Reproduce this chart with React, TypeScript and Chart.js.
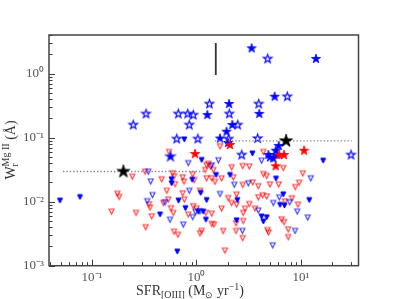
import React, { useEffect, useRef } from 'react';
import { Chart, registerables } from 'chart.js';
Chart.register(...registerables);

const X_MIN = 0.0388;
const X_MAX = 35.5;
const Y_MIN = 0.001;
const Y_MAX = 4.02;

const redOpenTri: [number, number][] = [
  [0.154, 0.007], [0.175, 0.0133], [0.182, 0.0119], [0.243, 0.0246], [0.264, 0.0067],
  [0.322, 0.0294], [0.351, 0.0091], [0.359, 0.0081], [0.327, 0.004], [0.373, 0.0059],
  [0.465, 0.0224], [0.546, 0.0598], [0.592, 0.0278], [0.61, 0.0249], [0.623, 0.0188],
  [0.738, 0.024], [0.759, 0.0206], [0.92, 0.0268], [0.95, 0.0218], [1.3, 0.039],
  [1.68, 0.0737], [0.52, 0.0148], [0.738, 0.0135], [0.537, 0.0108], [0.481, 0.00955],
  [0.57, 0.0079], [0.6, 0.0067], [0.764, 0.0108], [0.61, 0.0034], [0.665, 0.00305],
  [1.12, 0.0035], [1.08, 0.0032], [1.08, 0.0148], [0.932, 0.0085], [1.0, 0.0078],
  [0.835, 0.0063], [1.23, 0.0067], [1.4, 0.0065], [1.4, 0.0045], [1.47, 0.0044],
  [1.74, 0.0078], [2.01, 0.0114], [1.8, 0.0035], [1.87, 0.00172],
  [1.25, 0.0374], [1.36, 0.0355], [1.21, 0.0313], [1.45, 0.0313], [1.25, 0.0232],
  [1.4, 0.0232], [1.5, 0.0205], [1.74, 0.0232], [2.17, 0.0345], [2.25, 0.024],
  [2.77, 0.0361], [3.2, 0.0354], [2.77, 0.0183], [3.45, 0.02], [3.9, 0.0175],
  [4.36, 0.0598], [4.36, 0.027], [4.7, 0.0253], [5.05, 0.0186], [6.12, 0.0186],
  [6.77, 0.0336], [10.4, 0.0277], [9.6, 0.0198], [8.8, 0.0169],
  [2.42, 0.0129], [2.17, 0.00955], [2.42, 0.009], [3.9, 0.0117], [4.3, 0.0126],
  [4.7, 0.0121], [3.2, 0.0092], [2.91, 0.0078], [2.8, 0.0067], [3.63, 0.0078],
  [7.03, 0.0101], [8.2, 0.0113], [9.35, 0.009], [2.8, 0.005], [2.39, 0.0046],
  [2.39, 0.0035], [2.77, 0.0027], [6.53, 0.0053], [6.88, 0.0048], [7.55, 0.0037],
  [7.55, 0.0028], [4.78, 0.0036], [4.9, 0.0033],
];

const blueOpenTri: [number, number][] = [
  [0.346, 0.0294], [0.365, 0.0207], [0.379, 0.0127], [0.338, 0.0102], [0.835, 0.0401],
  [1.62, 0.0444], [1.4, 0.037], [0.853, 0.0148], [0.5, 0.0098], [0.558, 0.00523],
  [0.748, 0.0044], [0.98, 0.0069], [1.08, 0.0071], [0.92, 0.00575], [1.68, 0.0132],
  [4.2, 0.0438], [2.3, 0.0184], [3.13, 0.0194], [6.2, 0.0117], [5.43, 0.00955],
  [7.8, 0.0098], [9.2, 0.007], [11.6, 0.00566], [12.4, 0.0232], [3.9, 0.0073],
  [2.75, 0.0035], [8.77, 0.0035], [5.36, 0.00208],
];

const blueFilledTri: [number, number][] = [
  [0.0494, 0.0104], [0.0768, 0.0118], [0.764, 0.0937], [0.577, 0.0224], [0.578, 0.0194],
  [0.91, 0.022], [0.673, 0.0104], [0.785, 0.0079], [1.04, 0.00698], [0.448, 0.0063],
  [0.655, 0.00166], [3.43, 0.0566], [16.3, 0.0438], [1.12, 0.0449], [1.54, 0.0261],
  [2.09, 0.0261], [5.76, 0.0229], [2.46, 0.0106], [6.77, 0.013], [6.3, 0.0089],
  [6.95, 0.0087], [12.0, 0.0106], [4.2, 0.00587], [4.7, 0.0057], [4.36, 0.0049],
  [2.42, 0.0051], [1.23, 0.00523], [1.16, 0.00698], [1.1, 0.0137], [1.25, 0.0106],
];

const blueFilledStars: [number, number][] = [
  [3.37, 2.49], [13.9, 1.7], [2.05, 0.336], [5.6, 0.437], [1.27, 0.226], [3.99, 0.235],
  [2.2, 0.158], [1.94, 0.124], [1.68, 0.097], [2.01, 0.0826], [6.12, 0.0742], [5.73, 0.0626],
  [5.05, 0.0491], [5.43, 0.0473], [4.87, 0.0537], [5.85, 0.0537],
];

const bigBlueStar: [number, number][] = [[0.564, 0.0508]];

const blueOpenStars: [number, number][] = [
  [0.248, 0.158], [0.329, 0.235], [0.67, 0.235], [0.824, 0.235], [0.932, 0.226], [0.853, 0.158],
  [0.647, 0.0955], [1.03, 0.0955], [4.8, 1.7], [1.33, 0.336], [3.94, 0.336], [7.39, 0.437],
  [2.06, 0.235], [2.48, 0.158], [2.03, 0.0955], [3.85, 0.097], [2.71, 0.0537], [30.1, 0.0537],
];

const redStars: [number, number][] = [
  [0.968, 0.0556], [2.09, 0.0769], [10.7, 0.0626], [6.2, 0.0537], [6.88, 0.0537], [5.73, 0.0358],
];

const blackStars: [number, number][] = [[0.2, 0.0296], [7.2, 0.089]];

const medianLow: [number, number][] = [[0.0528, 0.0296], [1.21, 0.0296]];
const medianHigh: [number, number][] = [[1.5, 0.089], [30.6, 0.089]];
const errorBar: [number, number][] = [[1.53, 0.954], [1.53, 3.02]];

const SUP: Record<string, string> = {
  '-': '\u207B', '0': '\u2070', '1': '\u00B9', '2': '\u00B2', '3': '\u00B3',
  '4': '\u2074', '5': '\u2075', '6': '\u2076', '7': '\u2077', '8': '\u2078', '9': '\u2079',
};

function powLabel(v: number): string {
  const e = Math.log10(v);
  const r = Math.round(e);
  if (Math.abs(e - r) > 1e-6) return '';
  return '10' + String(r).split('').map((c) => SUP[c] || c).join('');
}

function starCanvas(R: number, fill: string | null, stroke: string | null, lw: number) {
  const pad = Math.ceil(lw) + 1;
  const size = Math.ceil(2 * R + 2 * pad);
  const c = document.createElement('canvas');
  c.width = size;
  c.height = size;
  const ctx = c.getContext('2d')!;
  const cx = size / 2;
  const cy = size / 2;
  ctx.beginPath();
  for (let i = 0; i < 10; i++) {
    const r = i % 2 === 0 ? R : R * 0.381966;
    const a = -Math.PI / 2 + (i * Math.PI) / 5;
    const px = cx + r * Math.cos(a);
    const py = cy + r * Math.sin(a);
    if (i === 0) ctx.moveTo(px, py);
    else ctx.lineTo(px, py);
  }
  ctx.closePath();
  if (fill) {
    ctx.fillStyle = fill;
    ctx.fill();
  }
  if (stroke) {
    ctx.strokeStyle = stroke;
    ctx.lineWidth = lw;
    ctx.lineJoin = 'miter';
    ctx.stroke();
  }
  return c;
}

function triCanvas(s: number, fill: string | null, stroke: string | null, lw: number) {
  const pad = Math.ceil(lw) + 1;
  const size = Math.ceil(s + 2 * pad);
  const c = document.createElement('canvas');
  c.width = size;
  c.height = size;
  const ctx = c.getContext('2d')!;
  const cx = size / 2;
  const cy = size / 2;
  const h = s / 2;
  ctx.beginPath();
  ctx.moveTo(cx - h, cy - h);
  ctx.lineTo(cx + h, cy - h);
  ctx.lineTo(cx, cy + h);
  ctx.closePath();
  if (fill) {
    ctx.fillStyle = fill;
    ctx.fill();
  }
  if (stroke) {
    ctx.strokeStyle = stroke;
    ctx.lineWidth = lw;
    ctx.stroke();
  }
  return c;
}

const pts = (arr: [number, number][]) => arr.map(([x, y]) => ({ x, y }));

type Seg = { t: string; size: number; dy: number };

const FAM = '"Liberation Serif", serif';

function drawSegs(ctx: CanvasRenderingContext2D, segs: Seg[], x0: number, y0: number) {
  let total = 0;
  for (const s of segs) {
    ctx.font = `${s.size}px ${FAM}`;
    total += ctx.measureText(s.t).width;
  }
  let x = x0 - total / 2;
  for (const s of segs) {
    ctx.font = `${s.size}px ${FAM}`;
    ctx.fillText(s.t, x, y0 + s.dy);
    x += ctx.measureText(s.t).width;
  }
}

const decorPlugin = {
  id: 'decor',
  afterDraw(chart: any) {
    const { ctx, chartArea: a, scales } = chart;
    const xs = scales.x;
    const ys = scales.y;
    ctx.save();
    ctx.strokeStyle = '#3a3a3a';
    ctx.lineWidth = 1;
    for (let d = -3; d <= 1; d++) {
      for (let m = 1; m <= 9; m++) {
        const v = m * Math.pow(10, d);
        const len = m === 1 ? 6 : 3.5;
        if (v >= X_MIN && v <= X_MAX) {
          const px = Math.round(xs.getPixelForValue(v)) + 0.5;
          ctx.beginPath();
          ctx.moveTo(px, a.bottom);
          ctx.lineTo(px, a.bottom - len);
          ctx.stroke();
        }
        if (v >= Y_MIN && v <= Y_MAX) {
          const py = Math.round(ys.getPixelForValue(v)) + 0.5;
          ctx.beginPath();
          ctx.moveTo(a.left, py);
          ctx.lineTo(a.left + len, py);
          ctx.stroke();
        }
      }
    }
    ctx.lineWidth = 1.5;
    ctx.strokeStyle = '#444';
    ctx.strokeRect(a.left, a.top, a.right - a.left, a.bottom - a.top);

    ctx.fillStyle = '#333';
    ctx.textBaseline = 'alphabetic';
    drawSegs(
      ctx,
      [
        { t: 'SFR', size: 14, dy: 0 },
        { t: '[OIII]', size: 10, dy: 3 },
        { t: ' (M', size: 14, dy: 0 },
        { t: '\u2299', size: 9, dy: 3 },
        { t: ' yr', size: 14, dy: 0 },
        { t: '\u22121', size: 10, dy: -5 },
        { t: ')', size: 14, dy: 0 },
      ],
      190,
      295
    );

    ctx.translate(15, 150);
    ctx.rotate(-Math.PI / 2);
    ctx.font = `14px ${FAM}`;
    const wW = ctx.measureText('W').width;
    ctx.font = `10px ${FAM}`;
    const supW = ctx.measureText('Mg II').width;
    ctx.font = `14px ${FAM}`;
    const restW = ctx.measureText(' (\u00C5)').width;
    const total = wW + supW + restW;
    let x = -total / 2;
    ctx.font = `14px ${FAM}`;
    ctx.fillText('W', x, 0);
    x += wW;
    ctx.font = `10px ${FAM}`;
    ctx.fillText('r', x, 3);
    ctx.fillText('Mg II', x, -6);
    x += supW;
    ctx.font = `14px ${FAM}`;
    ctx.fillText(' (\u00C5)', x, 0);
    ctx.restore();
  },
};

export default function App() {
  const ref = useRef<HTMLCanvasElement | null>(null);
  useEffect(() => {
    if (!ref.current) return;
    const redTri = triCanvas(5, null, 'rgba(255,0,0,0.8)', 1.1);
    const blueTriOpen = triCanvas(5, null, 'rgba(0,0,255,0.8)', 1.1);
    const blueTriFill = triCanvas(5, '#0000ff', '#0000ff', 1);
    const blueStarFill = starCanvas(4.8, '#0000ff', '#0000ff', 0.8);
    const blueStarBig = starCanvas(5.8, '#0000ff', 'rgba(60,60,255,0.8)', 1);
    const blueStarOpen = starCanvas(4.5, null, '#0000ff', 1.1);
    const redStarFill = starCanvas(4.9, '#ff0000', '#ff0000', 0.8);
    const blackStar = starCanvas(6.8, '#000000', '#000000', 0.8);

    const sc = (data: [number, number][], style: any, order: number) => ({
      data: pts(data),
      pointStyle: style,
      pointRadius: 4,
      pointHoverRadius: 4,
      showLine: false,
      order,
    });
    const ln = (data: [number, number][], color: string, width: number, dash: number[], order: number) => ({
      data: pts(data),
      showLine: true,
      pointRadius: 0,
      borderColor: color,
      borderWidth: width,
      borderDash: dash,
      fill: false,
      order,
    });

    const tickFont = { family: FAM, size: 13 };

    const chart = new Chart(ref.current, {
      type: 'scatter',
      data: {
        datasets: [
          ln(errorBar, '#333333', 1.8, [], 0) as any,
          sc(blackStars, blackStar, 1),
          ln(medianLow, '#8a8a8a', 1.4, [1.4, 2], 2) as any,
          ln(medianHigh, '#8a8a8a', 1.4, [1.4, 2], 2) as any,
          sc(redStars, redStarFill, 3),
          sc(bigBlueStar, blueStarBig, 4),
          sc(blueFilledStars, blueStarFill, 4),
          sc(blueOpenStars, blueStarOpen, 5),
          sc(blueFilledTri, blueTriFill, 6),
          sc(blueOpenTri, blueTriOpen, 7),
          sc(redOpenTri, redTri, 8),
        ],
      },
      options: {
        animation: false,
        responsive: false,
        events: [],
        layout: { padding: { top: 35, right: 40.5, left: 0, bottom: 0 } },
        plugins: { legend: { display: false }, tooltip: { enabled: false } },
        scales: {
          x: {
            type: 'logarithmic',
            min: X_MIN,
            max: X_MAX,
            grid: { display: false, drawTicks: false },
            border: { display: false },
            ticks: {
              autoSkip: false,
              maxRotation: 0,
              padding: 4,
              color: '#555',
              font: tickFont,
              callback: (v: any) => powLabel(Number(v)),
            },
            afterFit: (s: any) => {
              s.height = 33.3;
            },
          },
          y: {
            type: 'logarithmic',
            min: Y_MIN,
            max: Y_MAX,
            grid: { display: false, drawTicks: false },
            border: { display: false },
            ticks: {
              autoSkip: false,
              padding: 5,
              color: '#555',
              font: tickFont,
              callback: (v: any) => powLabel(Number(v)),
            },
            afterFit: (s: any) => {
              s.width = 49;
            },
          },
        },
      },
      plugins: [decorPlugin],
    });
    return () => chart.destroy();
  }, []);
  return (
    <div style={{ position: 'fixed', left: 0, top: 0, width: 399, height: 299, background: '#fff' }}>
      <canvas ref={ref} width={399} height={299} style={{ width: 399, height: 299, display: 'block' }} />
    </div>
  );
}
